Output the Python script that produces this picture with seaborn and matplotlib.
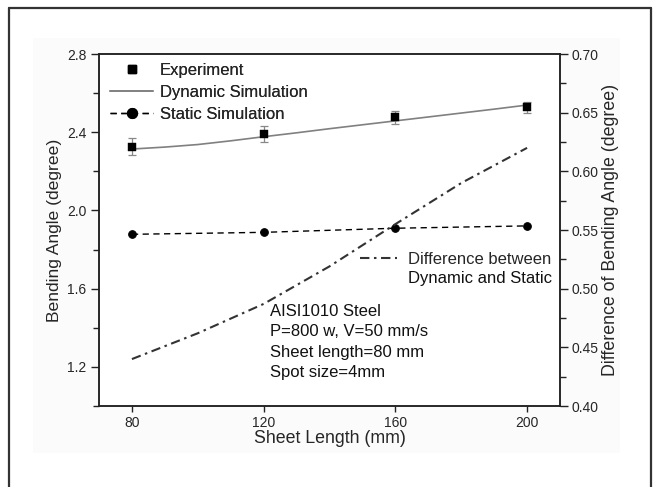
import matplotlib
matplotlib.use("Agg")
import matplotlib.pyplot as plt
import seaborn as sns
import pandas as pd
from matplotlib.lines import Line2D
from matplotlib.patches import Rectangle
from matplotlib.ticker import MultipleLocator

# ---- data ----
x_exp = [80, 120, 160, 200]
exp_angle = [2.326, 2.391, 2.476, 2.527]
exp_err = [0.043, 0.04, 0.033, 0.03]

x_dyn = [80, 90, 100, 110, 120, 130, 140, 150, 160, 170, 180, 190, 200]
dyn_angle = [2.314, 2.324, 2.337, 2.356, 2.377, 2.397, 2.418, 2.438, 2.458, 2.478, 2.498, 2.518, 2.539]

x_sta = [80, 120, 160, 200]
sta_angle = [1.878, 1.888, 1.909, 1.921]

x_diff = [80, 100, 120, 140, 160, 180, 200]
diff_angle = [0.440, 0.462, 0.487, 0.519, 0.555, 0.590, 0.620]

x_ticks = [80, 120, 160, 200]
annot_lines = ["AISI1010 Steel", "P=800 w, V=50 mm/s", "Sheet length=80 mm", "Spot size=4mm"]

sns.set_style("ticks")
plt.rcParams['font.family'] = ['Liberation Sans', 'DejaVu Sans']

W, H = 656, 487
fig = plt.figure(figsize=(W / 100, H / 100), dpi=100)
fig.patch.set_facecolor('white')

# faint background panel and outer frame
fig.patches.append(Rectangle((33 / W, 1 - 453 / H), (620 - 33) / W, (453 - 38) / H,
                             transform=fig.transFigure, facecolor='#fbfbfb',
                             edgecolor='none', zorder=-10))
frame_kw = dict(transform=fig.transFigure, color='#333333', lw=1.6)
fig.add_artist(Line2D([9 / W, 9 / W], [0, 1 - 8 / H], **frame_kw))
fig.add_artist(Line2D([651 / W, 651 / W], [0, 1 - 8 / H], **frame_kw))
fig.add_artist(Line2D([9 / W, 651 / W], [1 - 8 / H, 1 - 8 / H], **frame_kw))

ax = fig.add_axes([99 / W, 1 - 406 / H, (560 - 99) / W, (406 - 54) / H])
ax.set_facecolor('white')
ax2 = ax.twinx()

df_exp = pd.DataFrame({'x': x_exp, 'y': exp_angle})
df_dyn = pd.DataFrame({'x': x_dyn, 'y': dyn_angle})
df_sta = pd.DataFrame({'x': x_sta, 'y': sta_angle})
df_diff = pd.DataFrame({'x': x_diff, 'y': diff_angle})

sns.lineplot(data=df_dyn, x='x', y='y', ax=ax, color='#808080', lw=1.2, zorder=3)
ax.errorbar(x_exp, exp_angle, yerr=exp_err, fmt='none', ecolor='#888888',
            elinewidth=0.9, capsize=3, capthick=0.9, zorder=4)
sns.scatterplot(data=df_exp, x='x', y='y', ax=ax, marker='s', color='black',
                s=34, edgecolor='black', linewidth=0.3, zorder=5)
sns.lineplot(data=df_sta, x='x', y='y', ax=ax, color='black', lw=1.0,
             linestyle=(0, (4.5, 3.2)), marker='o', markersize=5.5,
             markeredgecolor='black', zorder=4)
sns.lineplot(data=df_diff, x='x', y='y', ax=ax2, color='#333333', lw=1.5,
             linestyle=(0, (4.5, 2.2, 1.2, 2.2)), zorder=3)

spine_c = '#222222'
ax.set_xlim(70, 210)
ax.set_ylim(1.0, 2.8)
ax2.set_ylim(0.40, 0.70)
ax.set_xticks(x_ticks)
ax.yaxis.set_minor_locator(MultipleLocator(0.2))
ax.set_yticks([1.2, 1.6, 2.0, 2.4, 2.8])
ax2.yaxis.set_major_locator(MultipleLocator(0.05))
ax2.yaxis.set_minor_locator(MultipleLocator(0.025))
ax2.yaxis.set_major_formatter(matplotlib.ticker.FormatStrFormatter('%.2f'))

for a in (ax, ax2):
    for s in a.spines.values():
        s.set_visible(True)
        s.set_color(spine_c)
        s.set_linewidth(1.1)
ax.tick_params(axis='both', which='major', direction='out', length=6, width=1.0,
               color=spine_c, labelsize=10, pad=3)
ax.tick_params(axis='y', which='minor', direction='out', length=4, width=1.0, color=spine_c)
ax.tick_params(axis='x', which='major', length=4)
ax2.tick_params(axis='y', which='major', direction='out', length=6, width=1.0,
                color=spine_c, labelsize=10, pad=2)
ax2.tick_params(axis='y', which='minor', direction='out', length=4, width=1.0, color=spine_c)

ax.set_xlabel('Sheet Length (mm)', fontsize=12.8, labelpad=0)
ax.set_ylabel('Bending Angle (degree)', fontsize=12.6, labelpad=4)
ax2.set_ylabel('Difference of Bending Angle (degree)', fontsize=12.8, labelpad=3)

# legend 1
h1 = [Line2D([], [], color='black', marker='s', markersize=5.5, linestyle='none'),
      Line2D([], [], color='#808080', lw=1.2),
      Line2D([], [], color='black', lw=1.0, linestyle=(0, (4.5, 3.2)), marker='o', markersize=7)]
leg1 = ax.legend(h1, ['Experiment', 'Dynamic Simulation', 'Static Simulation'],
                 loc='upper left', bbox_to_anchor=((110 - 99) / 461, (406 - 63) / 352),
                 frameon=False, fontsize=12, handlelength=2.6, handletextpad=0.4,
                 labelspacing=0.42, borderpad=0, borderaxespad=0)
ax.add_artist(leg1)

# legend 2
h2 = [Line2D([], [], color='#333333', lw=1.5, linestyle=(0, (4.5, 2.2, 1.2, 2.2)))]
ax2.legend(h2, ['Difference between'], loc='upper left',
           bbox_to_anchor=((360 - 99) / 461, (406 - 252) / 352), frameon=False,
           fontsize=12, handlelength=2.2, handletextpad=0.65, borderpad=0,
           borderaxespad=0)
ax.text((408 - 99) / 461, (406 - 279) / 352, "Dynamic and Static", transform=ax.transAxes,
        fontsize=12, va='center', ha='left', color='#111111')

ax.text((270 - 99) / 461, (406 - 304) / 352, "\n".join(annot_lines), transform=ax.transAxes,
        fontsize=12, va='top', ha='left', linespacing=1.45, color='#111111')

fig.savefig('out.png', dpi=100, facecolor='white')
